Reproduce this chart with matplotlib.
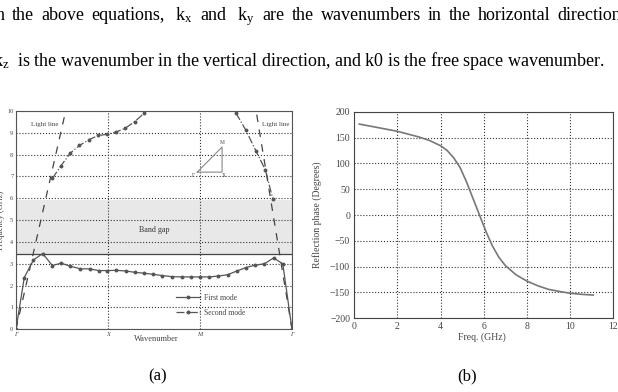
import numpy as np
import matplotlib
matplotlib.use('Agg')
import matplotlib.pyplot as plt

plt.rcParams['font.family'] = ['Liberation Serif', 'DejaVu Serif']
plt.rcParams['mathtext.fontset'] = 'custom'
plt.rcParams['mathtext.rm'] = 'Liberation Serif'
plt.rcParams['mathtext.it'] = 'Liberation Serif:italic'

# --- (a) dispersion diagram, x in path units (G-X-M-G = 0..3)
first_x = [0, 0.09, 0.19, 0.29, 0.395, 0.49, 0.59, 0.70, 0.80, 0.90, 0.99,
           1.09, 1.196, 1.29, 1.39, 1.49, 1.59, 1.70, 1.80, 1.90, 2.0,
           2.10, 2.20, 2.30, 2.40, 2.50, 2.60, 2.70, 2.80, 2.90, 3.0]
first_y = [0, 2.37, 3.18, 3.47, 2.92, 3.03, 2.89, 2.77, 2.77, 2.69, 2.69,
           2.70, 2.67, 2.61, 2.57, 2.52, 2.46, 2.41, 2.40, 2.40, 2.40,
           2.40, 2.44, 2.50, 2.67, 2.83, 2.94, 3.0, 3.27, 3.0, 0]
second_lx = [0.395, 0.49, 0.59, 0.69, 0.79, 0.895, 0.99, 1.09, 1.19, 1.29, 1.39]
second_ly = [6.91, 7.5, 8.07, 8.42, 8.68, 8.88, 8.93, 9.04, 9.22, 9.51, 9.89]
second_rx = [2.39, 2.50, 2.61, 2.71, 2.79]
second_ry = [9.91, 9.11, 8.15, 7.31, 5.99]
light_lx, light_ly = [0, 0.54], [0, 10]
light_rx, light_ry = [3, 2.61], [0, 10]
gap_lo, gap_hi = 3.45, 5.93
bz_x = [1.97, 2.24, 2.24, 1.97]   # small Brillouin zone inset
bz_y = [7.2, 7.2, 8.35, 7.2]
path_ticks = ['Γ', 'X', 'M', 'Γ']

# --- (b) reflection phase
freq = [0.23, 1.0, 2.0, 3.0, 3.5, 4.0, 4.3, 4.6, 4.9, 5.2, 5.5, 5.8, 6.1,
        6.4, 6.7, 7.0, 7.5, 8.0, 8.5, 9.0, 9.5, 10.0, 10.5, 11.07]
phase = [176, 170, 162, 151, 144, 134, 125, 111, 92, 64, 32, 0, -32,
         -60, -82, -98, -116, -128, -137, -144, -148, -151.5, -153.5, -155]

line1 = [r"In", "the", "above", "equations,", r" $\mathrm{k_x}$ ", "and",
         r" $\mathrm{k_y}$ ", "are", "the", "wavenumbers", "in", "the",
         "horizontal", "directions"]
line2 = r"$\mathrm{k_z}$  is the wavenumber in the vertical direction, and k0 is the free space wavenumber."

W, H = 618, 392
fig = plt.figure(figsize=(W / 100, H / 100), dpi=100)
rend = fig.canvas.get_renderer()

# justified first line, running past the right edge like the page crop
x0, x1 = -10, 628
ts = [fig.text(0, 1 - 20 / H, w, fontsize=13, va='baseline', ha='left') for w in line1]
ws = [t.get_window_extent(rend).width for t in ts]
gap = (x1 - x0 - sum(ws)) / (len(ws) - 1)
x = x0
for t, w in zip(ts, ws):
    t.set_x(x / W)
    x += w + gap
fig.text(-7 / W, 1 - 66 / H, line2, fontsize=13, va='baseline', ha='left')

# left panel
ax = fig.add_axes([16 / W, 1 - 329.3 / H, 276 / W, 218.3 / H])
ax.axhspan(gap_lo, gap_hi, color='#e8e8e8', lw=0, zorder=0)
ax.axhline(gap_lo, color='#444444', lw=0.9, zorder=2)
ax.plot(light_lx, light_ly, color='#444444', lw=0.9, dashes=(6, 6))
ax.plot(light_rx, light_ry, color='#444444', lw=0.9, dashes=(6, 6))
ax.plot(first_x, first_y, '-o', color='#555555', lw=0.9, ms=1.8, label='First mode')
ax.plot(second_lx, second_ly, '-.o', color='#555555', lw=0.9, ms=1.8, label='Second mode')
ax.plot(second_rx, second_ry, '-.o', color='#555555', lw=0.9, ms=1.8)
ax.plot(bz_x, bz_y, color='#888888', lw=0.8)
ax.text(2.24, 8.42, 'M', fontsize=4, ha='center', va='bottom', color='#444444')
ax.text(1.95, 7.15, 'Γ', fontsize=4, ha='right', va='top', color='#444444')
ax.text(2.26, 7.15, 'X', fontsize=4, ha='center', va='top', color='#444444')
ax.text(0.165, 9.37, 'Light line', fontsize=5, va='center', color='#444444')
ax.text(2.67, 9.37, 'Light line', fontsize=5, va='center', color='#444444')
ax.text(1.5, 4.55, 'Band gap', fontsize=5.8, ha='center', va='center', color='#333333')
ax.set_xlim(0, 3)
ax.set_ylim(0, 10)
ax.set_xticks(range(4))
ax.set_xticklabels(path_ticks, fontstyle='italic')
ax.set_yticks(range(11))
ax.tick_params(labelsize=4.5, length=0, pad=2, colors='#444444')
ax.grid(True, ls=':', color='#333333', lw=0.8)
for s in ax.spines.values():
    s.set_color('#555555')
    s.set_linewidth(0.8)
ax.legend(loc='center left', bbox_to_anchor=(0.565, 0.11), frameon=False,
          fontsize=5.5, handlelength=3.2, labelspacing=0.9, borderpad=0,
          handletextpad=0.5, labelcolor='#444444')
fig.text(156.7 / W, 1 - 339.3 / H, 'Wavenumber', fontsize=6, ha='center', va='center', color='#444444')
fig.text(1 / W, 1 - 220 / H, 'Frequency (GHz)', fontsize=6, rotation=90, ha='center', va='center', color='#444444')

# right panel
bx = fig.add_axes([354.3 / W, 1 - 318.3 / H, 259 / W, 206.6 / H])
bx.plot(freq, phase, color='#777777', lw=1.2)
bx.set_xlim(0, 12)
bx.set_ylim(-200, 200)
bx.set_xticks(np.arange(0, 13, 2))
bx.set_yticks(np.arange(-200, 201, 50))
bx.tick_params(labelsize=7, length=0, pad=3, colors='#444444')
bx.grid(True, ls=':', color='#333333', lw=0.8)
for s in bx.spines.values():
    s.set_color('#444444')
    s.set_linewidth(0.8)
fig.text(481.7 / W, 1 - 337.3 / H, 'Freq. (GHz)', fontsize=7, ha='center', va='center', color='#444444')
fig.text(317 / W, 1 - 215 / H, 'Reflection phase (Degrees)', fontsize=7, rotation=90, ha='center', va='center', color='#444444')

fig.text(158 / W, 1 - 376 / H, '(a)', fontsize=12, ha='center', va='center')
fig.text(467 / W, 1 - 376 / H, '(b)', fontsize=12, ha='center', va='center')

fig.savefig('out.png', dpi=100)
